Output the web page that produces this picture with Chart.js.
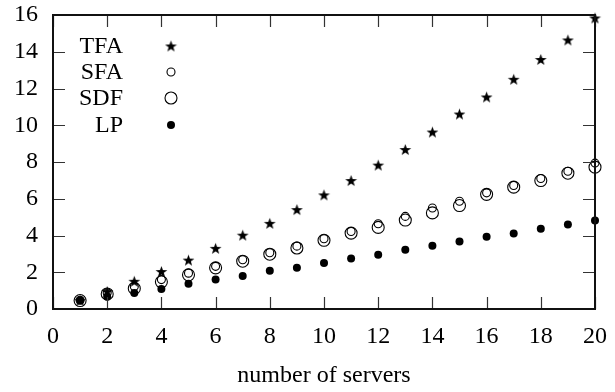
<!DOCTYPE html>
<html>
<head>
<meta charset="utf-8">
<script src="https://cdn.jsdelivr.net/npm/chart.js@4/dist/chart.umd.min.js"></script>
<style>
  html, body { margin: 0; padding: 0; background: #fff; }
  #wrap { width: 615px; height: 392px; }
</style>
</head>
<body>
<div id="wrap"><canvas id="c" width="615" height="392"></canvas></div>
<script>
// number of servers
const servers = [1,2,3,4,5,6,7,8,9,10,11,12,13,14,15,16,17,18,19,20];
const tfa = [0.47,0.95,1.51,2.04,2.66,3.30,4.02,4.66,5.41,6.21,6.99,7.83,8.68,9.63,10.61,11.54,12.50,13.58,14.64,15.84];
const sfa = [0.48,0.88,1.22,1.60,1.95,2.32,2.68,3.06,3.42,3.82,4.22,4.64,5.04,5.50,5.86,6.32,6.72,7.10,7.50,7.94];
const sdf = [0.46,0.82,1.12,1.48,1.86,2.24,2.60,2.98,3.32,3.74,4.13,4.44,4.84,5.23,5.63,6.24,6.63,6.99,7.39,7.72];
const lp  = [0.47,0.67,0.87,1.09,1.38,1.60,1.80,2.08,2.24,2.51,2.75,2.95,3.22,3.44,3.68,3.93,4.11,4.37,4.60,4.81];
const xTicks = [0,2,4,6,8,10,12,14,16,18,20];
const yTicks = [0,2,4,6,8,10,12,14,16];
const seriesNames = ['TFA','SFA','SDF','LP'];

const FONT = '"Liberation Serif", "DejaVu Serif", serif';
const FS = 24;

// filled five-pointed star marker
function makeStar(size) {
  const cv = document.createElement('canvas');
  cv.width = size; cv.height = size;
  const g = cv.getContext('2d');
  const cx = size / 2, cy = size / 2 + 0.6, R = size / 2 - 0.3, r = R * 0.4;
  g.beginPath();
  for (let i = 0; i < 10; i++) {
    const rad = i % 2 === 0 ? R : r;
    const a = -Math.PI / 2 + i * Math.PI / 5;
    const px = cx + rad * Math.cos(a), py = cy + rad * Math.sin(a);
    if (i === 0) g.moveTo(px, py); else g.lineTo(px, py);
  }
  g.closePath();
  g.fillStyle = '#000';
  g.fill();
  return cv;
}
const star = makeStar(13);

const pts = arr => servers.map((s, i) => ({ x: s, y: arr[i] }));

// keep the plot box fixed: no extra room reserved for overhanging labels
function noOverhang(s) {
  s.paddingTop = 0; s.paddingBottom = 0; s.paddingLeft = 0; s.paddingRight = 0;
}

// inward ticks on all four sides plus the frame
const frameTicks = {
  id: 'frameTicks',
  afterDatasetsDraw(chart) {
    const { ctx, chartArea: a, scales: { x, y } } = chart;
    const L = 12;
    ctx.save();
    ctx.strokeStyle = '#333';
    ctx.lineWidth = 1.2;
    ctx.beginPath();
    xTicks.forEach(v => {
      const px = Math.round(x.getPixelForValue(v)) + 0.5;
      ctx.moveTo(px, a.bottom); ctx.lineTo(px, a.bottom - L);
      ctx.moveTo(px, a.top); ctx.lineTo(px, a.top + L);
    });
    yTicks.forEach(v => {
      const py = Math.round(y.getPixelForValue(v)) + 0.5;
      ctx.moveTo(a.left, py); ctx.lineTo(a.left + L, py);
      ctx.moveTo(a.right, py); ctx.lineTo(a.right - L, py);
    });
    ctx.stroke();
    ctx.strokeStyle = '#111';
    ctx.lineWidth = 2;
    ctx.strokeRect(a.left, a.top, a.right - a.left, a.bottom - a.top);
    ctx.restore();
  }
};

// key in the upper left corner: label right-aligned, marker to its right
const keyBox = {
  id: 'keyBox',
  afterDraw(chart) {
    const { ctx } = chart;
    const textRight = 123, markX = 171, rows = [46, 72, 98, 125];
    ctx.save();
    ctx.font = FS + 'px ' + FONT;
    ctx.fillStyle = '#000';
    ctx.textAlign = 'right';
    ctx.textBaseline = 'middle';
    chart.data.datasets.forEach((ds, i) => {
      ctx.fillText(ds.label, textRight, rows[i] + 1);
      if (ds.pointStyle instanceof HTMLCanvasElement) {
        ctx.drawImage(ds.pointStyle, markX - ds.pointStyle.width / 2, rows[i] - ds.pointStyle.height / 2);
      } else {
        ctx.beginPath();
        ctx.arc(markX, rows[i], ds.pointRadius, 0, Math.PI * 2);
        ctx.fillStyle = ds.pointBackgroundColor;
        ctx.fill();
        if (ds.pointBorderWidth > 0) {
          ctx.lineWidth = ds.pointBorderWidth;
          ctx.strokeStyle = ds.pointBorderColor;
          ctx.stroke();
        }
        ctx.fillStyle = '#000';
      }
    });
    ctx.restore();
  }
};

new Chart(document.getElementById('c'), {
  type: 'scatter',
  data: {
    datasets: [
      { label: seriesNames[0], data: pts(tfa), pointStyle: star, pointRadius: 6.5, clip: false },
      { label: seriesNames[1], data: pts(sfa), pointStyle: 'circle', pointRadius: 4,
        pointBackgroundColor: 'rgba(255,255,255,0)', pointBorderColor: '#000', pointBorderWidth: 1.1, clip: false },
      { label: seriesNames[2], data: pts(sdf), pointStyle: 'circle', pointRadius: 6,
        pointBackgroundColor: 'rgba(255,255,255,0)', pointBorderColor: '#000', pointBorderWidth: 1.1, clip: false },
      { label: seriesNames[3], data: pts(lp), pointStyle: 'circle', pointRadius: 4,
        pointBackgroundColor: '#000', pointBorderColor: '#000', pointBorderWidth: 0, clip: false }
    ]
  },
  options: {
    responsive: false,
    animation: false,
    layout: { padding: { left: 0, right: 20, top: 15, bottom: 0 } },
    plugins: { legend: { display: false }, tooltip: { enabled: false } },
    scales: {
      x: {
        type: 'linear', min: 0, max: 20,
        afterBuildTicks: s => { s.ticks = xTicks.map(v => ({ value: v })); },
        afterFit: s => { s.height = 83; noOverhang(s); },
        grid: { display: false, drawTicks: false },
        border: { display: false },
        ticks: { color: '#000', font: { family: FONT, size: FS }, padding: 13, maxRotation: 0 },
        title: { display: true, text: 'number of servers', color: '#000',
                 font: { family: FONT, size: FS }, padding: { top: 4, bottom: 2 } }
      },
      y: {
        type: 'linear', min: 0, max: 16,
        afterBuildTicks: s => { s.ticks = yTicks.map(v => ({ value: v })); },
        afterFit: s => { s.width = 53; noOverhang(s); },
        grid: { display: false, drawTicks: false },
        border: { display: false },
        ticks: { color: '#000', font: { family: FONT, size: FS }, padding: 15 }
      }
    }
  },
  plugins: [frameTicks, keyBox]
});
</script>
</body>
</html>
